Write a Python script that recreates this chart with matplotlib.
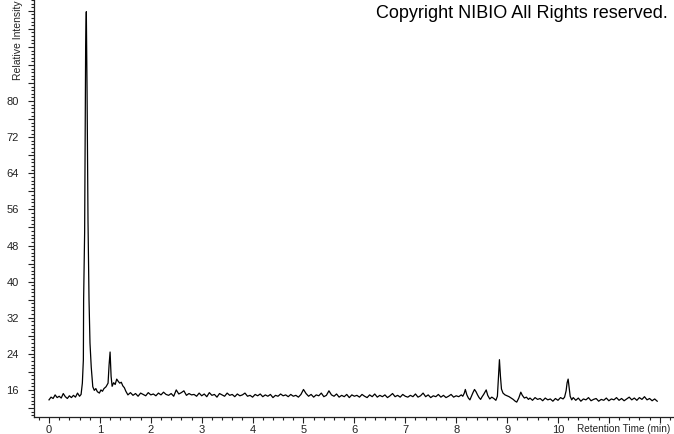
import numpy as np
from matplotlib import pyplot as plt
from matplotlib.ticker import MultipleLocator, FuncFormatter

plt.rcParams['font.family'] = ['Liberation Sans', 'DejaVu Sans']

# chromatogram (retention time in min, relative intensity)
seg_a_vals = [13.8, 14.4, 14.1, 14.9, 14.3, 14.6, 14.2, 15.2, 14.5, 14.1,
              14.7, 14.3, 14.8, 14.4, 15.3, 14.6]  # 0.00 .. 0.60

peak1_t = [0.63, 0.655, 0.675, 0.68, 0.70, 0.714, 0.72, 0.733, 0.747, 0.766,
           0.786, 0.805, 0.83, 0.86, 0.89, 0.92, 0.95, 0.99, 1.02, 1.05,
           1.08, 1.12, 1.16, 1.18, 1.20, 1.22, 1.24, 1.27, 1.30, 1.33,
           1.36, 1.39, 1.42, 1.45, 1.48, 1.51, 1.55]
peak1_v = [15.0, 17.5, 22.7, 36.0, 51.0, 83.0, 92.4, 99.8, 83.0, 53.5,
           36.0, 26.4, 21.0, 16.7, 15.9, 16.3, 15.6, 15.3, 16.0, 15.7,
           16.3, 16.7, 17.5, 21.5, 24.4, 19.0, 16.8, 17.6, 17.2, 18.4,
           17.9, 17.5, 17.7, 16.9, 16.5, 15.7, 14.9]

seg_b_vals = [15.4, 14.8, 15.2, 14.6, 15.3, 15.0, 14.7, 15.4, 14.9, 15.1,
              14.7, 15.3, 14.9, 15.5, 15.0, 14.8, 15.2, 14.6, 16.0, 15.1,
              15.4, 15.8, 14.8, 15.2, 14.9, 15.0, 14.6, 15.3, 14.7, 15.1,
              14.5, 15.4, 14.8, 15.0, 14.4, 15.2, 14.9, 14.6, 15.3, 14.8,
              15.0, 14.5, 15.1, 14.7, 14.9, 15.3, 14.6, 14.8, 14.4, 15.0,
              14.7, 15.1, 14.5, 14.9, 14.6, 15.0, 14.3, 14.8, 14.6, 15.1,
              14.7, 14.9, 14.5, 15.0, 14.6, 14.8, 14.4, 15.0, 16.1, 15.2,
              14.6, 15.0, 14.4, 14.9, 14.7, 15.3, 14.5, 14.8, 15.8, 14.9,
              14.6, 15.1, 14.4, 14.8, 14.5, 15.0, 14.3, 14.9, 14.6, 14.8,
              14.4, 15.0, 14.6, 14.3, 14.9, 14.5, 15.1, 14.4, 14.8, 14.5,
              14.9, 14.3, 14.7, 15.2, 14.5, 14.8, 14.4, 15.0, 14.6, 14.4,
              14.8, 14.5, 15.1, 14.4, 14.7, 15.3, 14.5, 14.9, 14.3, 14.7,
              14.5, 15.0, 14.4, 14.8, 14.3, 14.6, 15.0, 14.4, 14.7, 14.5,
              14.9]  # 1.60 .. 8.10

peak2_t = [8.13, 8.16, 8.18, 8.21, 8.24, 8.27, 8.30, 8.33, 8.36, 8.39,
           8.42, 8.45, 8.48, 8.51, 8.54, 8.57, 8.59, 8.62, 8.66, 8.70,
           8.74, 8.78, 8.81, 8.83, 8.85, 8.87, 8.89, 8.92, 8.96, 9.00,
           9.04, 9.08, 9.12, 9.16, 9.19, 9.23, 9.27, 9.30, 9.34, 9.38, 9.42]
peak2_v = [14.6, 15.3, 16.1, 14.9, 14.2, 13.8, 14.6, 15.4, 16.1, 15.6,
           14.9, 14.3, 13.9, 14.5, 15.0, 15.6, 16.0, 14.8, 14.0, 14.4,
           14.1, 13.7, 14.6, 18.5, 22.7, 19.0, 16.2, 15.3, 14.9, 14.7,
           14.5, 14.2, 13.9, 13.5, 13.3, 14.2, 15.5, 14.8, 14.2, 14.4, 13.9]

seg_c_vals = [14.2, 13.7, 14.3, 13.9, 14.1, 13.6, 14.2, 13.8, 14.0, 13.5,
              14.1, 13.7, 14.3, 14.0]  # 9.45 .. 10.10

peak3_t = [10.13, 10.16, 10.18, 10.20, 10.22, 10.24, 10.27, 10.30]
peak3_v = [14.4, 15.8, 17.6, 18.4, 16.5, 14.6, 13.8, 14.3]

seg_d_vals = [13.7, 14.2, 13.5, 14.0, 13.8, 14.3, 13.6, 13.9, 14.1, 13.5,
              13.9, 13.7, 14.2, 13.6, 14.0, 13.8, 14.3, 13.7, 14.1, 13.6,
              14.0, 14.4, 13.8, 14.2, 13.7, 14.3, 13.9, 14.5, 13.8, 14.1,
              13.6, 14.0, 13.5]  # 10.35 .. 11.95

t = np.concatenate([np.linspace(0.0, 0.60, len(seg_a_vals)), peak1_t,
                    np.linspace(1.60, 8.10, len(seg_b_vals)), peak2_t,
                    np.linspace(9.45, 10.10, len(seg_c_vals)), peak3_t,
                    np.linspace(10.35, 11.95, len(seg_d_vals))])
v = np.concatenate([seg_a_vals, peak1_v, seg_b_vals, peak2_v,
                    seg_c_vals, peak3_v, seg_d_vals])

fig = plt.figure(figsize=(6.74, 4.34), dpi=100)
ax = fig.add_axes([34/674, 17/434, 640/674, 417/434])
ax.plot(t, v, color='black', lw=0.9)

ax.set_xlim(-0.295, 12.28)
ax.set_ylim(10, 102.4)
for s in ['top', 'right']:
    ax.spines[s].set_visible(False)
for s in ['left', 'bottom']:
    ax.spines[s].set_color('#222222')
    ax.spines[s].set_linewidth(0.9)

ax.xaxis.set_major_locator(MultipleLocator(1))
ax.xaxis.set_minor_locator(MultipleLocator(0.2))
ax.xaxis.set_major_formatter(FuncFormatter(lambda x, p: f'{x:.0f}' if 0 <= x <= 10 else ''))
ax.yaxis.set_major_locator(MultipleLocator(4))
ax.yaxis.set_minor_locator(MultipleLocator(0.8))
ax.yaxis.set_major_formatter(
    FuncFormatter(lambda y, p: f'{y:.0f}' if 16 <= y <= 80 and round(y) % 8 == 0 else ''))

ax.tick_params(axis='x', which='major', length=4, width=0.8, pad=2, labelsize=8, colors='#222222')
ax.tick_params(axis='x', which='minor', length=2.2, width=0.8, colors='#222222')
ax.tick_params(axis='y', which='major', length=4, width=0.8, pad=7, labelsize=8, colors='#222222')
ax.tick_params(axis='y', which='minor', length=2.2, width=0.8, colors='#222222')

fig.text(577/674, 1 - 429/434, 'Retention Time (min)', fontsize=7.2, color='#222222',
         ha='left', va='center')
fig.text(18.5/674, 1 - 80/434, 'Relative Intensity', fontsize=7.5, color='#222222',
         rotation=90, ha='center', va='bottom')
fig.text(668/674, 1 - 14/434, 'Copyright NIBIO All Rights reserved.', fontsize=13,
         color='black', ha='right', va='center')

fig.savefig('out.png', dpi=100)
